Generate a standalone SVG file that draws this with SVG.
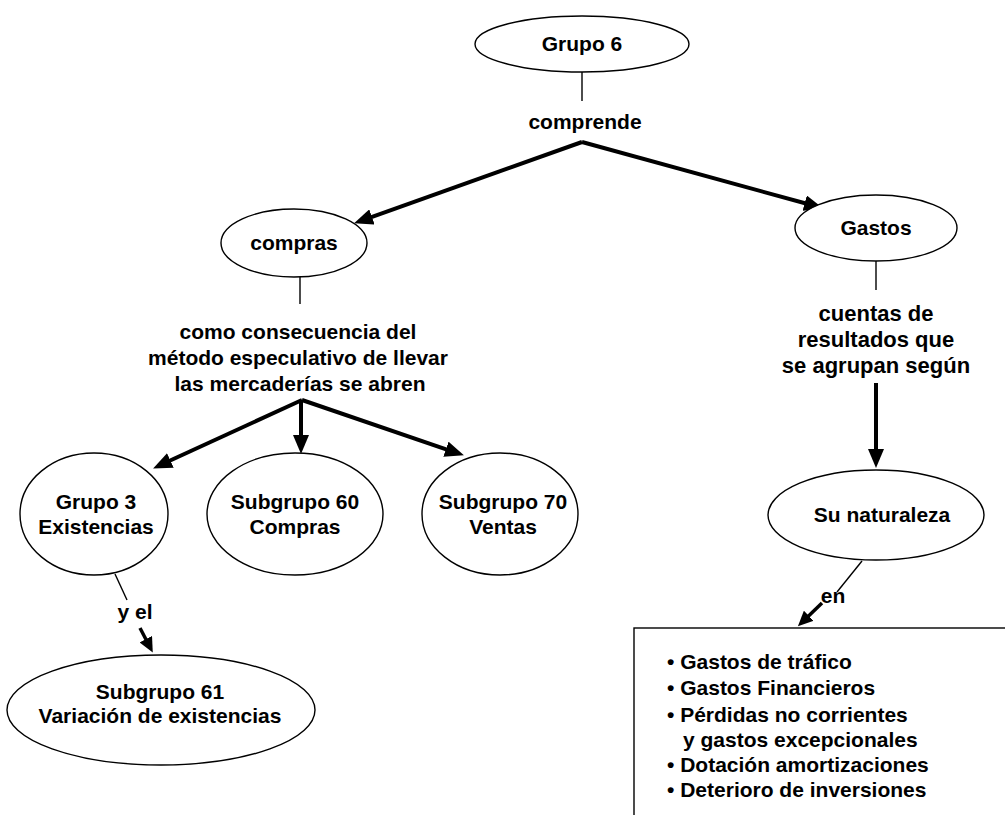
<svg xmlns="http://www.w3.org/2000/svg" width="1005" height="815" viewBox="0 0 1005 815">
<defs>
<style>
.n{fill:#fff;stroke:#000;stroke-width:1.4}
.t{font-family:"Liberation Sans",Arial,sans-serif;font-weight:bold;font-size:21px;fill:#000;text-anchor:middle}
.tr{font-size:22px}
.tl{font-family:"Liberation Sans",Arial,sans-serif;font-weight:bold;font-size:21px;fill:#000}
.thin{stroke:#000;stroke-width:1.4;fill:none}
.thick{stroke:#000;stroke-width:4;fill:none}
.med{stroke:#000;stroke-width:3.5;fill:none}
</style>
<marker id="ah" markerUnits="userSpaceOnUse" markerWidth="20" markerHeight="16" refX="8" refY="8" orient="auto">
<path d="M0,0 L19,8 L0,16 z" fill="#000"/>
</marker>
<marker id="ahs" markerUnits="userSpaceOnUse" markerWidth="16" markerHeight="14" refX="6" refY="7" orient="auto">
<path d="M0,0 L15,7 L0,14 z" fill="#000"/>
</marker>
</defs>
<rect width="1005" height="815" fill="#fff"/>
<g id="connectors">
<line class="thin" x1="582" y1="72" x2="582" y2="101"/>
<line class="thick" x1="582" y1="142" x2="364.4" y2="219.6" marker-end="url(#ah)"/>
<line class="thick" x1="582" y1="142" x2="812.4" y2="205.3" marker-end="url(#ah)"/>
<line class="thin" x1="300" y1="277" x2="300" y2="304"/>
<line class="thick" x1="302" y1="400" x2="163.1" y2="463.8" marker-end="url(#ah)"/>
<line class="thick" x1="301" y1="400" x2="301" y2="443" marker-end="url(#ah)"/>
<line class="thick" x1="302" y1="400" x2="453.5" y2="451.8" marker-end="url(#ah)"/>
<line class="thin" x1="876" y1="261" x2="876" y2="290"/>
<line class="thick" x1="876" y1="383" x2="876" y2="457" marker-end="url(#ah)"/>
<line class="thin" x1="115" y1="574" x2="127" y2="600"/>
<line class="med" x1="140" y1="628" x2="148.6" y2="644.5" marker-end="url(#ahs)"/>
<line class="thin" x1="862" y1="561" x2="837" y2="592"/>
<line class="med" x1="822" y1="603" x2="804.4" y2="619.9" marker-end="url(#ahs)"/>
</g>
<g id="grupo6">
<ellipse class="n" cx="582" cy="44" rx="107" ry="28"/>
<text class="t" x="582" y="51">Grupo 6</text>
</g>
<g id="label-comprende">
<text class="t" x="585" y="129">comprende</text>
</g>
<g id="compras">
<ellipse class="n" cx="294" cy="243" rx="73" ry="34"/>
<text class="t" x="294" y="250">compras</text>
</g>
<g id="gastos">
<ellipse class="n" cx="876" cy="228" rx="81" ry="33"/>
<text class="t" x="876" y="235">Gastos</text>
</g>
<g id="label-consecuencia">
<text class="t" x="298" y="339">como consecuencia del</text>
<text class="t" x="298" y="365">método especulativo de llevar</text>
<text class="t" x="300" y="391">las mercaderías se abren</text>
</g>
<g id="label-cuentas">
<text class="t tr" x="876" y="321">cuentas de</text>
<text class="t tr" x="876" y="347">resultados que</text>
<text class="t tr" x="876" y="373">se agrupan según</text>
</g>
<g id="grupo3">
<ellipse class="n" cx="94" cy="514" rx="74" ry="61"/>
<text class="t" x="96" y="509">Grupo 3</text>
<text class="t" x="96" y="534">Existencias</text>
</g>
<g id="subgrupo60">
<ellipse class="n" cx="295" cy="514" rx="88" ry="61"/>
<text class="t" x="295" y="509">Subgrupo 60</text>
<text class="t" x="295" y="534">Compras</text>
</g>
<g id="subgrupo70">
<ellipse class="n" cx="500" cy="514" rx="78" ry="61"/>
<text class="t" x="503" y="509">Subgrupo 70</text>
<text class="t" x="503" y="534">Ventas</text>
</g>
<g id="naturaleza">
<ellipse class="n" cx="876" cy="515" rx="108" ry="45"/>
<text class="t" x="882" y="522">Su naturaleza</text>
</g>
<g id="label-yel">
<text class="t" x="135" y="619">y el</text>
</g>
<g id="subgrupo61">
<ellipse class="n" cx="161" cy="710" rx="154" ry="55"/>
<text class="t" x="160" y="699">Subgrupo 61</text>
<text class="t" x="160" y="723">Variación de existencias</text>
</g>
<g id="label-en">
<text class="t" x="833" y="603">en</text>
</g>
<g id="lista">
<rect class="n" x="634" y="628" width="380" height="200"/>
<text class="tl" x="667" y="669">• Gastos de tráfico</text>
<text class="tl" x="667" y="695">• Gastos Financieros</text>
<text class="tl" x="667" y="722">• Pérdidas no corrientes</text>
<text class="tl" x="683" y="747">y gastos excepcionales</text>
<text class="tl" x="667" y="772">• Dotación amortizaciones</text>
<text class="tl" x="667" y="797">• Deterioro de inversiones</text>
</g>
</svg>
